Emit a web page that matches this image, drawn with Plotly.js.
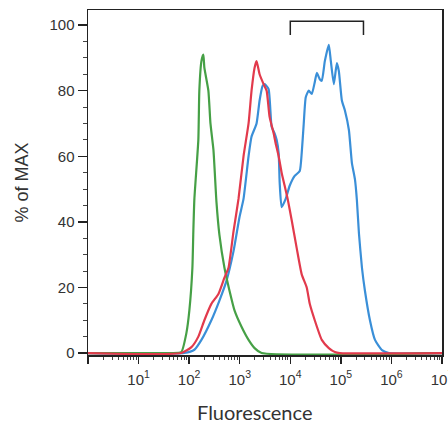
<!DOCTYPE html>
<html>
<head>
<meta charset="utf-8">
<script src="https://cdn.plot.ly/plotly-3.0.1.min.js"></script>
<style>html,body{margin:0;padding:0;background:#fff}#chart{width:448px;height:428px}</style>
</head>
<body>
<div id="chart"></div>
<script>
// Fluorescence values (x) and % of MAX (y) for each histogram
const greenX = [1, 44, 70, 88, 101, 116, 121, 127, 152, 159, 175, 191, 200, 240, 264, 302, 347, 397, 499, 628, 789, 1086, 1496, 1968, 2710, 1e7];
const greenY = [0, 0, 0.3, 6, 13, 26, 37, 47, 65, 80, 89, 91, 87, 80, 70, 62, 46, 36, 26, 19, 13, 8, 4, 1.5, 0, 0];

const redX = [1, 70, 111, 152, 200, 275, 379, 499, 600, 753, 946, 1189, 1496, 1714, 1968, 2153, 2472, 2965, 3404, 3899, 4688, 5129, 5888, 6745, 7745, 8872, 10666, 13397, 16827, 21135, 24266, 30479, 41976, 57810, 76033, 95499, 1e7];
const redY = [0, 0, 1.8, 5, 10, 15, 18, 23, 26, 37, 47, 60, 70, 80, 87, 89, 85, 82, 80, 72, 67, 64, 60, 55, 51, 47, 40.5, 32, 24, 20, 15, 10, 4, 1.5, 0.3, 0, 0];

const blueX = [1, 80, 127, 175, 275, 397, 547, 753, 991, 1189, 1496, 1714, 2153, 2472, 2831, 3105, 3724, 4276, 4898, 5370, 5888, 6166, 6745, 8110, 9727, 12218, 15382, 16827, 18450, 20230, 23174, 26607, 30479, 33420, 38282, 41976, 48195, 57810, 63387, 72611, 83368, 91201, 104713, 119950, 144212, 165196, 189671, 207491, 227510, 261216, 299226, 375837, 473151, 650130, 895365, 1e7];
const blueY = [0, 0, 1, 4, 10, 16, 22, 31, 41.5, 47, 60, 66, 70, 77, 81.4, 82, 80.5, 69, 67, 65, 61, 52, 44.5, 47, 51, 54, 55.5, 61, 70, 78, 80, 79, 82.6, 85.4, 83.5, 83, 89, 94, 89, 82, 88.4, 86, 77, 74, 68, 58, 53, 46.6, 36.6, 26, 19, 10, 4, 0.9, 0, 0];

// Gate bracket
const gateX = [10000, 10000, 280000, 280000];
const gateY = [97, 101.2, 101.2, 97];

// Axis ticks
const xTickVals = [1, 10, 100, 1000, 10000, 100000, 1000000, 10000000];
const xTickText = ['', '10<sup>1</sup>', '10<sup>2</sup>', '10<sup>3</sup>', '10<sup>4</sup>', '10<sup>5</sup>', '10<sup>6</sup>', '10<sup>7</sup>'];
const yTickVals = [0, 20, 40, 60, 80, 100];

const xMinor = [];
for (let d = 0; d < 7; d++) for (let k = 2; k <= 9; k++) xMinor.push(k * Math.pow(10, d));
const yMinor = [];
for (let v = 5; v < 105; v += 5) if (v % 20 !== 0) yMinor.push(v);

const lineSpec = (c) => ({color: c, width: 2.2, shape: 'spline', smoothing: 0.5});

const traces = [
  {x: blueX, y: blueY, type: 'scatter', mode: 'lines', line: lineSpec('#3a8fd8'), hoverinfo: 'skip'},
  {x: greenX, y: greenY, type: 'scatter', mode: 'lines', line: lineSpec('#46a046'), hoverinfo: 'skip'},
  {x: redX, y: redY, type: 'scatter', mode: 'lines', line: lineSpec('#e23a4c'), hoverinfo: 'skip'},
  {x: gateX, y: gateY, type: 'scatter', mode: 'lines', line: {color: '#222', width: 1.5}, hoverinfo: 'skip', cliponaxis: false}
];

const tickFont = {family: 'Liberation Sans, Arial, sans-serif', size: 15, color: '#333'};

const layout = {
  width: 448, height: 428,
  margin: {l: 88, r: 6, t: 10, b: 73},
  paper_bgcolor: '#fff', plot_bgcolor: '#fff',
  showlegend: false,
  xaxis: {
    type: 'log', range: [0, 7],
    tickmode: 'array', tickvals: xTickVals, ticktext: xTickText,
    ticks: 'outside', ticklen: 7, tickwidth: 1.5, tickcolor: '#222',
    ticklabeloverflow: 'allow', ticklabelstandoff: 3,
    showline: true, linecolor: '#222', linewidth: 1.5, mirror: true,
    showgrid: false, zeroline: false, tickfont: tickFont,
    minor: {tickmode: 'array', tickvals: xMinor, ticks: 'outside', ticklen: 3, tickwidth: 1, tickcolor: '#444', showgrid: false}
  },
  yaxis: {
    range: [-0.6, 104.6],
    tickmode: 'array', tickvals: yTickVals,
    ticks: 'outside', ticklen: 9, tickwidth: 1.5, tickcolor: '#222',
    showline: true, linecolor: '#222', linewidth: 1.5, mirror: true,
    showgrid: false, zeroline: false, tickfont: tickFont,
    title: {text: '% of MAX', font: {family: 'Liberation Sans, Arial, sans-serif', size: 18, color: '#333'}, standoff: 16},
    minor: {tickmode: 'array', tickvals: yMinor, ticks: 'outside', ticklen: 4, tickwidth: 1, tickcolor: '#444', showgrid: false}
  },
  annotations: [{
    text: 'Fluorescence', xref: 'paper', yref: 'paper', x: 0.469, y: -0.165,
    xanchor: 'center', yanchor: 'middle', showarrow: false,
    font: {family: 'Lato, Open Sans, sans-serif', size: 20, color: '#333'}
  }]
};

Plotly.newPlot('chart', traces, layout, {staticPlot: true, displayModeBar: false});
</script>
</body>
</html>
